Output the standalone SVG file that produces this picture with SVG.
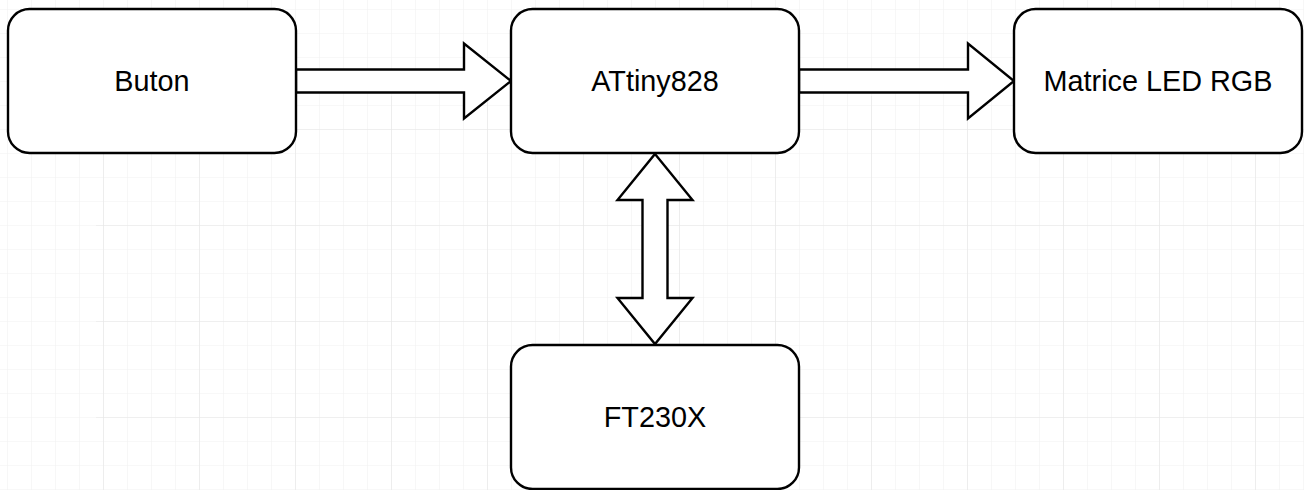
<svg xmlns="http://www.w3.org/2000/svg" width="1304" height="490" viewBox="0 0 1304 490">
<style>
.box{fill:#ffffff;stroke:#000000;stroke-width:2.4}
.arr{fill:#ffffff;stroke:#000000;stroke-width:2.4;stroke-linejoin:miter}
.lbl{font-family:"Liberation Sans",Arial,sans-serif;font-size:28.8px;fill:#000000;text-anchor:middle}
</style>
<defs>
<pattern id="minor" x="7" y="9" width="24" height="24" patternUnits="userSpaceOnUse">
<path d="M0 0H24M0 0V24" fill="none" stroke="#f1f1f1" stroke-width="1.2"/>
</pattern>
<pattern id="major" x="7" y="33" width="96" height="96" patternUnits="userSpaceOnUse">
<path d="M0 0H96M0 0V96" fill="none" stroke="#e6e6e6" stroke-width="1.2"/>
</pattern>
</defs>
<rect width="1304" height="490" fill="#ffffff"/>
<rect width="1304" height="490" fill="url(#minor)"/>
<rect width="1304" height="490" fill="url(#major)" transform="translate(96,96)"/>
<g id="connectors">
<polygon class="arr" points="296,69.5 464,69.5 464,43.5 511,81 464,118.5 464,92.5 296,92.5"/>
<polygon class="arr" points="799,69.5 968,69.5 968,43.5 1014,81 968,118.5 968,92.5 799,92.5"/>
<polygon class="arr" points="655,154 692.5,200 667.5,200 667.5,298 692.5,298 655,344 617.5,298 642.5,298 642.5,200 617.5,200"/>
</g>
<g id="node-buton">
<rect class="box" x="8" y="9" width="288" height="144" rx="21.6" ry="21.6"/>
<text class="lbl" x="152" y="91">Buton</text>
</g>
<g id="node-attiny">
<rect class="box" x="511" y="9" width="288" height="144" rx="21.6" ry="21.6"/>
<text class="lbl" x="655" y="91">ATtiny828</text>
</g>
<g id="node-matrice">
<rect class="box" x="1014" y="9" width="288" height="144" rx="21.6" ry="21.6"/>
<text class="lbl" x="1158" y="91">Matrice LED RGB</text>
</g>
<g id="node-ft230x">
<rect class="box" x="511" y="345" width="288" height="144" rx="21.6" ry="21.6"/>
<text class="lbl" x="655" y="427">FT230X</text>
</g>
</svg>
